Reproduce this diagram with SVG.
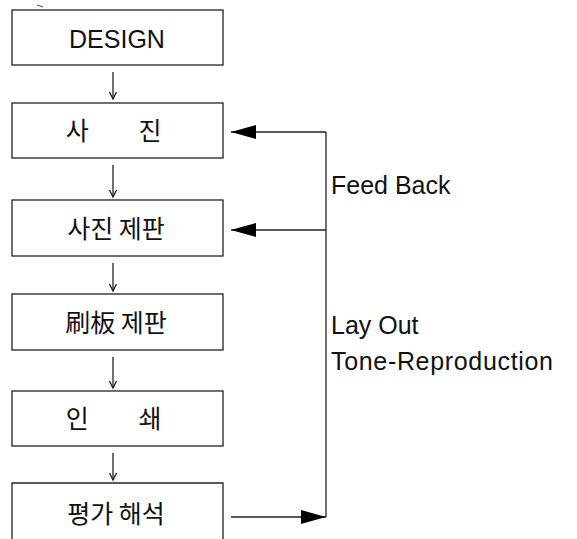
<svg xmlns="http://www.w3.org/2000/svg" width="577" height="539" viewBox="0 0 577 539">
<style>
.box{fill:#fff;stroke:#222;stroke-width:1.3}
.ko{font-family:"Noto Sans CJK KR","Noto Sans CJK SC",sans-serif;font-size:25px;fill:#111;text-anchor:middle}
.en{font-family:"Liberation Sans",Arial,sans-serif;font-size:25px;fill:#111}
.ln{stroke:#222;stroke-width:1.3;fill:none}
</style>
<defs>
<marker id="open" markerWidth="10" markerHeight="8" refX="8" refY="4" orient="auto" markerUnits="userSpaceOnUse">
<path d="M1,0.5 L8,4 L1,7.5" fill="none" stroke="#222" stroke-width="1.3"/>
</marker>
<marker id="solid" markerWidth="26" markerHeight="16" refX="25" refY="8" orient="auto" markerUnits="userSpaceOnUse">
<path d="M0,1 L25,8 L0,15 Z" fill="#000"/>
</marker>
</defs>
<path d="M37,5 L43,7 M57,13 L72,17" stroke="#555" stroke-width="1" fill="none"/>
<g id="design">
<rect class="box" x="12" y="10" width="211" height="55"/>
<text class="en" x="117" y="48" text-anchor="middle" font-size="24">DESIGN</text>
</g>
<g id="photo">
<rect class="box" x="12" y="103" width="211" height="55"/>
<text class="ko" x="80" y="140">사 <tspan x="150">진</tspan></text>
</g>
<g id="photo-plate">
<rect class="box" x="12" y="200" width="211" height="56"/>
<text class="ko" x="116" y="238">사진 제판</text>
</g>
<g id="print-plate">
<rect class="box" x="12" y="294" width="211" height="56"/>
<text class="ko" x="116" y="332">刷板 제판</text>
</g>
<g id="printing">
<rect class="box" x="12" y="391" width="211" height="55"/>
<text class="ko" x="80" y="428">인 <tspan x="150">쇄</tspan></text>
</g>
<g id="evaluation">
<path class="box" d="M12,545 L12,483 L223,483 L223,545"/>
<text class="ko" x="116" y="523">평가 해석</text>
</g>
<g id="connectors">
<line class="ln" x1="113" y1="72" x2="113" y2="99" marker-end="url(#open)"/>
<line class="ln" x1="113" y1="165" x2="113" y2="197" marker-end="url(#open)"/>
<line class="ln" x1="113" y1="263" x2="113" y2="291" marker-end="url(#open)"/>
<line class="ln" x1="113" y1="357" x2="113" y2="388" marker-end="url(#open)"/>
<line class="ln" x1="113" y1="453" x2="113" y2="480" marker-end="url(#open)"/>
<line class="ln" x1="231" y1="517" x2="326" y2="517" marker-end="url(#solid)"/>
<line class="ln" x1="326" y1="517" x2="326" y2="132"/>
<line class="ln" x1="326" y1="132" x2="231" y2="132" marker-end="url(#solid)"/>
<line class="ln" x1="326" y1="230" x2="231" y2="230" marker-end="url(#solid)"/>
<text class="en" x="331" y="194" font-size="26">Feed Back</text>
<text class="en" x="331" y="334" font-size="26">Lay Out</text>
<text class="en" x="331" y="370" font-size="26" textLength="222">Tone-Reproduction</text>
</g>
</svg>
